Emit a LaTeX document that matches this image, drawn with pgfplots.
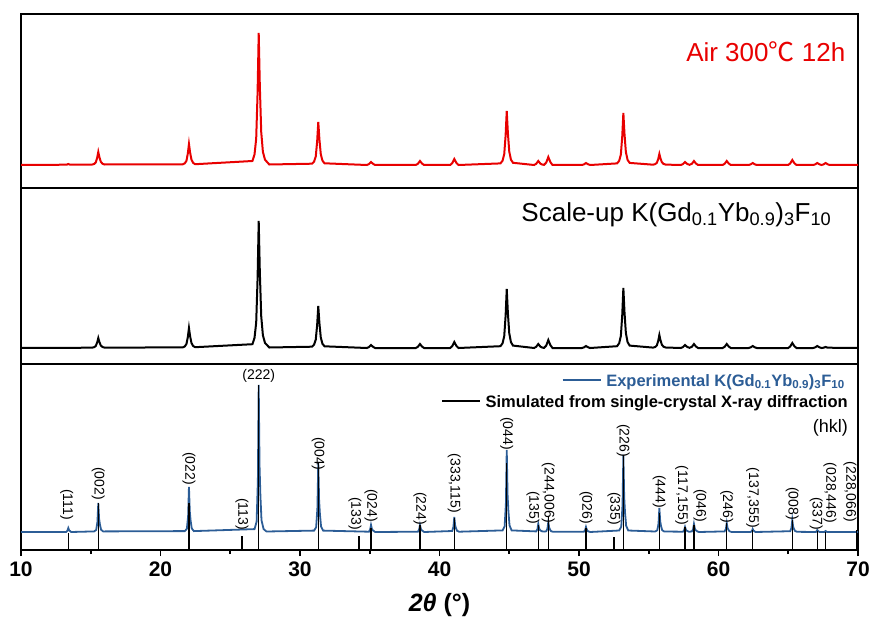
\documentclass[border=0pt]{standalone}
\usepackage{pgfplots}
\pgfplotsset{compat=1.18}
\usepackage{fontspec}
\setmainfont{Liberation Sans}
\newfontfamily\cjk{Noto Sans CJK SC}
\definecolor{xrdred}{RGB}{232,0,0}
\definecolor{xrdblue}{RGB}{44,93,150}
\newcommand{\hkl}[3]{\node[rotate=-90, anchor=east, inner sep=0pt, font=\fontsize{14}{16}\selectfont] at (axis cs:#1,#2) {#3};}
\begin{document}
\begin{tikzpicture}
\useasboundingbox (0,0) rectangle (874pt,625pt);
\pgfplotsset{panel/.style={scale only axis, width=837pt, xmin=10, xmax=70, ymin=0, ytick=\empty,
  axis line style={line width=2.6pt}, anchor=south west}}
% ---------------- top panel ----------------
\begin{axis}[panel, at={(21pt,437pt)}, height=174pt, ymax=174, xtick=\empty]
\addplot[xrdred, line width=2pt] coordinates {
(10,23) (13.27,23.3) (13.39,24) (13.51,23.3)
(15.09,23.4) (15.24,24.0) (15.36,25.6) (15.46,30.2) (15.54,36) (15.62,30.8) (15.72,26.3) (15.84,24.3) (15.99,23.5)
(21.59,23.6) (21.74,24.7) (21.86,27.2) (21.96,34.6) (22.04,44) (22.12,35.6) (22.22,28.3) (22.34,25.1) (22.49,23.8)
(26.59,27) (26.74,33.6) (26.86,49.4) (26.96,95.6) (27.04,155) (27.12,102.2) (27.22,56) (27.34,36.2) (27.49,28.3) (27.8,23.5)
(30.86,24.3) (31.01,26.4) (31.13,31.6) (31.23,46.7) (31.31,66) (31.39,48.8) (31.49,33.8) (31.61,27.3) (31.76,24.7)
(34.79,23) (34.94,23.9) (35.09,26) (35.24,24.1) (35.39,23)
(38.30,23) (38.45,24.2) (38.60,27) (38.75,24.4) (38.90,23)
(40.76,23) (40.91,24.8) (41.06,29) (41.21,25.1) (41.36,23)
(44.37,24.6) (44.52,27.3) (44.64,33.8) (44.74,52.7) (44.82,77) (44.90,55.4) (45.00,36.5) (45.12,28.4) (45.27,25.2)
(46.78,23) (46.93,24.2) (47.08,27) (47.23,24.4) (47.38,23.3)
(47.50,23.2) (47.65,25.4) (47.80,31) (47.95,25.8) (48.10,23)
(50.20,23) (50.35,23.6) (50.50,25) (50.65,23.7) (50.80,23)
(52.73,24.6) (52.88,27.2) (53.00,33.4) (53.10,51.6) (53.18,75) (53.26,54.2) (53.36,36) (53.48,28.2) (53.63,25.1)
(55.31,23.3) (55.46,23.9) (55.58,25.2) (55.68,29) (55.76,34) (55.84,29.6) (55.94,25.8) (56.06,24.1) (56.21,23.4)
(57.30,23) (57.45,23.9) (57.60,26) (57.75,24.1) (57.92,23.2)
(58.09,24.2) (58.24,27) (58.39,24.4) (58.54,23)
(60.29,23) (60.44,24.2) (60.59,27) (60.74,24.4) (60.89,23)
(62.15,23) (62.30,23.6) (62.45,25) (62.60,23.7) (62.75,23)
(64.99,23) (65.14,24.5) (65.29,28) (65.44,24.8) (65.59,23)
(66.78,23) (66.93,23.6) (67.08,25) (67.23,23.7) (67.38,23)
(67.53,23.6) (67.68,25) (67.83,23.7) (67.98,23)
(70,23)};
\node[anchor=east, text=xrdred, inner sep=0pt, font=\fontsize{26}{30}\selectfont] at (axis cs:69.1,136) {Air 300{\cjk ℃} 12h};
\end{axis}
% ---------------- middle panel ----------------
\begin{axis}[panel, at={(21pt,261pt)}, height=176pt, ymax=176, xtick=\empty]
\addplot[black, line width=2pt] coordinates {
(10,16)
(15.09,16.3) (15.24,16.8) (15.36,18) (15.46,21.5) (15.54,26) (15.62,22) (15.72,18.5) (15.84,17) (15.99,16.4)
(21.59,16.6) (21.74,17.6) (21.86,20) (21.96,27) (22.04,36) (22.12,28) (22.22,21) (22.34,18) (22.49,16.8)
(26.59,19.8) (26.74,26.2) (26.86,41.4) (26.96,85.9) (27.04,143) (27.12,92.2) (27.22,47.8) (27.34,28.7) (27.49,21.1) (27.8,16.5)
(30.86,17.3) (31.01,19.4) (31.13,24.4) (31.23,39.1) (31.31,58) (31.39,41.2) (31.49,26.5) (31.61,20.2) (31.76,17.7)
(34.79,16) (34.94,16.9) (35.09,19) (35.24,17.1) (35.39,16)
(38.30,16) (38.45,17.2) (38.60,20) (38.75,17.4) (38.90,16)
(40.76,16) (40.91,17.8) (41.06,22) (41.21,18.1) (41.36,16)
(44.37,17.8) (44.52,20.7) (44.64,27.8) (44.74,48.5) (44.82,75) (44.90,51.4) (45.00,30.8) (45.12,21.9) (45.27,18.4)
(46.78,16) (46.93,17.2) (47.08,20) (47.23,17.4) (47.38,16.3)
(47.50,16.2) (47.65,18.4) (47.80,24) (47.95,18.8) (48.10,16)
(50.20,16) (50.35,16.6) (50.50,18) (50.65,16.7) (50.80,16)
(52.73,17.8) (52.88,20.8) (53.00,28) (53.10,49) (53.18,76) (53.26,52) (53.36,31) (53.48,22) (53.63,18.4)
(55.31,16.4) (55.46,17) (55.58,18.6) (55.68,23.2) (55.76,29) (55.84,23.8) (55.94,19.3) (56.06,17.3) (56.21,16.5)
(57.30,16) (57.45,16.9) (57.60,19) (57.75,17.1) (57.92,16.2)
(58.09,17.2) (58.24,20) (58.39,17.4) (58.54,16)
(60.29,16) (60.44,17.2) (60.59,20) (60.74,17.4) (60.89,16)
(62.15,16) (62.30,16.6) (62.45,18) (62.60,16.7) (62.75,16)
(64.99,16) (65.14,17.5) (65.29,21) (65.44,17.8) (65.59,16)
(66.78,16) (66.93,16.6) (67.08,18) (67.23,16.7) (67.38,16)
(67.53,16.3) (67.68,17) (67.83,16.3) (70,16)};
\node[anchor=east, inner sep=0pt, font=\fontsize{26}{30}\selectfont] at (axis cs:68.1,149) {Scale-up K(Gd\textsubscript{0.1}Yb\textsubscript{0.9})\textsubscript{3}F\textsubscript{10}};
\end{axis}
% ---------------- bottom panel ----------------
\begin{axis}[panel, at={(21pt,75pt)}, height=186pt, ymax=186,
  xtick={10,20,...,70}, minor xtick={15,25,...,65}, tick align=outside, xtick pos=bottom,
  major tick length=6pt, minor tick length=4pt, tick style={line width=1.8pt, black},
  xticklabel style={font=\fontsize{21}{24}\selectfont\bfseries, yshift=-2pt},
  /pgf/number format/assume math mode=true,
  xlabel={\textit{2θ} (°)}, xlabel style={font=\fontsize{25}{28}\selectfont\bfseries, yshift=-10pt}]
\addplot[xrdblue, line width=1.8pt] coordinates {
(10,18) (13.24,18) (13.33,19.4) (13.39,22) (13.45,19.8) (13.59,18)
(15.24,18.6) (15.39,20) (15.48,28.2) (15.54,47) (15.60,31) (15.66,25.3) (15.74,20.3) (15.89,18.6)
(21.74,18.9) (21.89,21.2) (21.98,33.8) (22.04,63) (22.10,38.3) (22.16,29.3) (22.24,21.6) (22.39,18.9)
(26.74,20.9) (26.89,28.3) (26.98,69.5) (27.04,165) (27.10,84.2) (27.16,54.8) (27.24,29.8) (27.39,20.9) (27.6,18.5)
(31.01,19.4) (31.16,22.9) (31.25,42.5) (31.31,88) (31.37,49.5) (31.43,35.5) (31.51,23.6) (31.66,19.4)
(34.94,18.3) (35.03,20.5) (35.09,25) (35.15,21.2) (35.21,19.8) (35.39,18)
(38.45,18.3) (38.54,20.5) (38.60,25) (38.66,21.2) (38.72,19.8) (38.90,18)
(40.91,19) (41.00,23.3) (41.06,33) (41.12,24.8) (41.18,21.8) (41.26,19.2) (41.41,18.3)
(44.52,19.6) (44.67,23.7) (44.76,46.7) (44.82,100) (44.88,54.9) (44.94,38.5) (45.02,24.6) (45.17,19.6)
(46.93,18.6) (47.02,20.8) (47.08,26) (47.14,21.6) (47.20,20) (47.32,18.8)
(47.50,18.4) (47.65,18.7) (47.74,21.5) (47.80,28) (47.86,22.5) (47.92,20.5) (48.00,18.8) (48.15,18.2)
(50.35,18.3) (50.44,19.8) (50.50,23) (50.56,20.3) (50.64,18.8) (50.80,18)
(52.88,19.5) (53.03,23.4) (53.12,45) (53.18,95) (53.24,52.7) (53.30,37.3) (53.38,24.2) (53.53,19.5)
(55.46,18.5) (55.61,19.7) (55.70,26.4) (55.76,42) (55.82,28.8) (55.88,24) (55.96,19.9) (56.11,18.5)
(57.45,18.3) (57.54,19.8) (57.60,23) (57.66,20.3) (57.72,19.3) (57.88,18.2)
(58.09,18.6) (58.18,20.8) (58.24,26) (58.30,21.6) (58.36,20) (58.48,18.6) (58.60,18)
(60.44,18.6) (60.53,21.2) (60.59,27) (60.65,22) (60.71,20.3) (60.79,18.7) (60.94,18)
(62.30,18) (62.39,19) (62.45,21) (62.51,19.4) (62.65,18)
(65.14,18.8) (65.23,22.2) (65.29,30) (65.35,23.4) (65.41,21) (65.49,19) (65.64,18.2)
(66.98,18) (67.02,18.7) (67.08,20) (67.14,18.9) (67.25,18)
(67.58,18) (67.68,19) (67.78,18) (70,18)};
\addplot[ycomb, black, line width=1.3pt] coordinates {
(13.39,17) (15.54,47) (22.04,47) (25.84,14) (27.04,165) (31.31,87) (34.23,14) (35.09,22)
(38.60,25) (41.06,32) (44.82,87) (47.08,25) (47.80,33) (50.50,22) (52.51,13) (53.18,95)
(55.76,37) (57.60,23) (58.24,25) (60.59,27) (62.45,20) (65.29,30) (67.08,19) (67.68,18) (69.9,20)};
\hkl{13.28}{30}{(111)}
\hkl{15.54}{50}{(002)}
\hkl{22.04}{65}{(022)}
\hkl{25.84}{20}{(113)}
\node[anchor=south, inner sep=0pt, font=\fontsize{14}{16}\selectfont] at (axis cs:27.04,167) {(222)};
\hkl{31.31}{80}{(004)}
\hkl{33.94}{20}{(133)}
\hkl{35.09}{28}{(024)}
\hkl{38.60}{25}{(224)}
\hkl{41.06}{37}{(333,115)}
\hkl{44.82}{100}{(044)}
\hkl{46.70}{26}{(135)}
\hkl{47.80}{27}{(244,006)}
\hkl{50.50}{26}{(026)}
\hkl{52.51}{25}{(335)}
\hkl{53.18}{93}{(226)}
\hkl{55.76}{42}{(444)}
\hkl{57.36}{25}{(117,155)}
\hkl{58.67}{28}{(046)}
\hkl{60.59}{27}{(246)}
\hkl{62.45}{22}{(137,355)}
\hkl{65.29}{30}{(008)}
\hkl{67.00}{20}{(337)}
\hkl{67.99}{27}{(028,446)}
\hkl{69.43}{28}{(228,066)}
\node[anchor=east, inner sep=0pt, text=xrdblue, font=\fontsize{16.5}{19}\selectfont\bfseries] at (axis cs:69.07,168)
  {\raisebox{0.32em}{\tikz\draw[xrdblue, line width=2pt] (0,0) -- (38pt,0);}\ Experimental K(Gd\textsubscript{0.1}Yb\textsubscript{0.9})\textsubscript{3}F\textsubscript{10}};
\node[anchor=east, inner sep=0pt, font=\fontsize{16.5}{19}\selectfont\bfseries] at (axis cs:69.28,147)
  {\raisebox{0.32em}{\tikz\draw[black, line width=2pt] (0,0) -- (38pt,0);}\ Simulated from single-crystal X-ray diffraction};
\node[anchor=east, inner sep=0pt, font=\fontsize{18}{21}\selectfont] at (axis cs:69.28,122) {(hkl)};
\end{axis}
\end{tikzpicture}
\end{document}
